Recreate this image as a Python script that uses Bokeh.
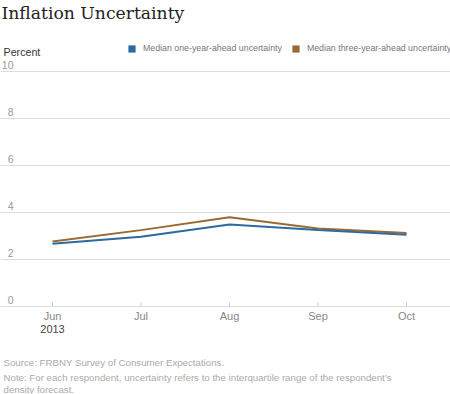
from bokeh.plotting import figure
from bokeh.models import (Range1d, Grid, FixedTicker, Label, LabelSet, ColumnDataSource,
                          Legend, LegendItem)
from bokeh.core.properties import value
from bokeh.embed import file_html
from bokeh.resources import INLINE

# ---- data ----
months = ["Jun", "Jul", "Aug", "Sep", "Oct"]
year_label = "2013"
one_year = [2.67, 2.97, 3.49, 3.25, 3.05]
three_year = [2.77, 3.25, 3.80, 3.32, 3.13]
y_ticks = [0, 2, 4, 6, 8, 10]
y_tick_labels = ["0", "2", "4", "6", "8", "10"]
series_names = ["Median one-year-ahead uncertainty", "Median three-year-ahead uncertainty"]
title_text = "Inflation Uncertainty"
y_title = "Percent"
source_text = "Source: FRBNY Survey of Consumer Expectations."
note_lines = ["Note: For each respondent, uncertainty refers to the interquartile range of the respondent\u2019s",
              "density forecast."]

BLUE = "#2d6aa0"
BROWN = "#9a6a32"
FONT = "Liberation Sans"
NAN = float("nan")

W, H = 450, 394
x_idx = list(range(len(months)))

p = figure(width=W, height=H, output_backend="svg", toolbar_location=None,
           x_axis_type=None, y_axis_type=None,
           x_range=Range1d(-0.5876, 4.497), y_range=Range1d(-3.745, 13.021),
           min_border=0, outline_line_color=None)
p.background_fill_color = "white"
p.border_fill_color = "white"

grid = Grid(dimension=1, ticker=FixedTicker(ticks=y_ticks),
            grid_line_color="#dcdcdc", grid_line_width=1, bounds=(-0.5537, 4.497))
p.add_layout(grid)

# x ticks (small, pointing up from the zero line)
tick_len = 0.18
p.segment(x0=x_idx, x1=x_idx, y0=[0] * len(months), y1=[tick_len] * len(months),
          line_color="#cccccc", line_width=1)

# data lines
r3 = p.line(x_idx, three_year, line_color=BROWN, line_width=2)
r1 = p.line(x_idx, one_year, line_color=BLUE, line_width=2)

# legend swatches (invisible glyphs used only for the legend)
q1 = p.quad(left=[NAN], right=[NAN], top=[NAN], bottom=[NAN], fill_color=BLUE, line_color=None)
q2 = p.quad(left=[NAN], right=[NAN], top=[NAN], bottom=[NAN], fill_color=BROWN, line_color=None)
legend = Legend(items=[LegendItem(label=series_names[0], renderers=[q1]),
                       LegendItem(label=series_names[1], renderers=[q2])],
                orientation="horizontal", location=(127, 341),
                border_line_color=None, background_fill_alpha=0,
                padding=0, margin=0, spacing=9,
                glyph_width=9, glyph_height=9, label_standoff=7,
                label_height=10, label_text_font=FONT,
                label_text_font_size="8.8px", label_text_color="#777777",
                label_text_baseline="middle")
p.add_layout(legend, "center")

# y tick labels above gridlines
ysrc = ColumnDataSource(dict(y=y_ticks, t=y_tick_labels, x=[13] * len(y_ticks)))
p.add_layout(LabelSet(x="x", y="y", text="t", source=ysrc, x_units="screen",
                      y_offset=6, text_align="right", text_baseline="middle",
                      text_font=value(FONT), text_font_size=value("10.5px"),
                      text_color=value("#999999")))

# x tick labels
xsrc = ColumnDataSource(dict(x=x_idx, y=[0] * len(months), t=months))
p.add_layout(LabelSet(x="x", y="y", text="t", source=xsrc,
                      y_offset=-10, text_align="center", text_baseline="middle",
                      text_font=value(FONT), text_font_size=value("11px"),
                      text_color=value("#888888")))
p.add_layout(Label(x=x_idx[0], y=0, text=year_label, y_offset=-23,
                   text_align="center", text_baseline="middle",
                   text_font=FONT, text_font_size="11px", text_color="#444444"))

# title and axis label
p.add_layout(Label(x=1, y=H - 12, x_units="screen", y_units="screen", text=title_text,
                   text_align="left", text_baseline="middle",
                   text_font="DejaVu Serif", text_font_size="17.2px", text_color="#222222"))
p.add_layout(Label(x=3, y=H - 51, x_units="screen", y_units="screen", text=y_title,
                   text_align="left", text_baseline="middle",
                   text_font=FONT, text_font_size="10.7px", text_color="#333333"))

# footer
p.add_layout(Label(x=3, y=H - 362, x_units="screen", y_units="screen", text=source_text,
                   text_align="left", text_baseline="middle",
                   text_font=FONT, text_font_size="9.7px", text_color="#aaaaaa"))
for i, line in enumerate(note_lines):
    p.add_layout(Label(x=3, y=H - 377 - 12 * i, x_units="screen", y_units="screen", text=line,
                       text_align="left", text_baseline="middle",
                       text_font=FONT, text_font_size="9.7px", text_color="#aaaaaa"))

open("out.html", "w").write(file_html(p, INLINE))
